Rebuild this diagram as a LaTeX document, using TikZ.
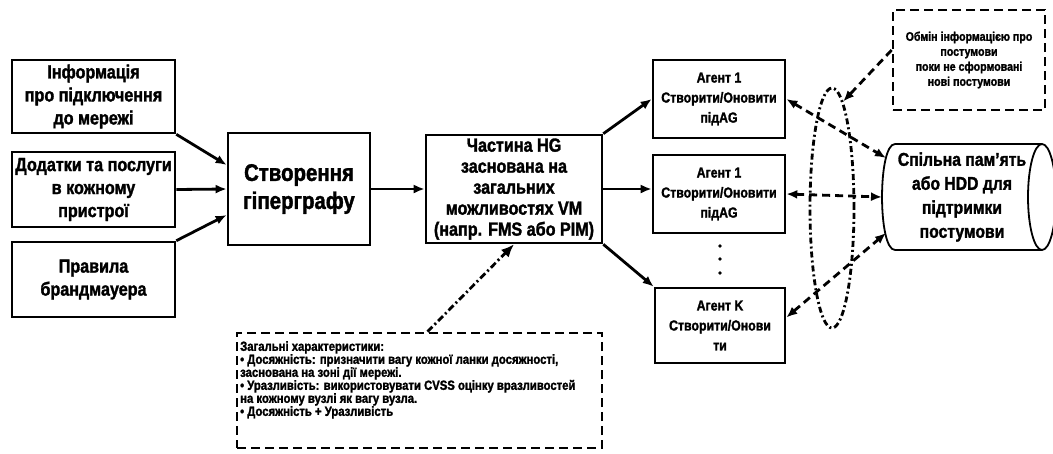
\documentclass[tikz,border=0pt]{standalone}
\usepackage{fontspec}
\setmainfont{Liberation Sans}[FakeStretch=0.85,BoldFeatures={FakeBold=1.6}]
\usetikzlibrary{arrows.meta,shapes.geometric,calc}
\newcommand{\fsz}[2]{\fontsize{#1}{#2}\selectfont\bfseries}
\begin{document}
\begin{tikzpicture}[x=1pt,y=-1pt,
  box/.style={draw,line width=2.6pt,align=center,inner sep=0pt},
  dbox/.style={draw,line width=2.6pt,dash pattern=on 9pt off 5pt,align=center,inner sep=0pt},
  arr/.style={line width=2.8pt,-{Latex[length=11pt,width=9pt]}},
  darr/.style={line width=2.8pt,dash pattern=on 8pt off 5pt,{Latex[length=11pt,width=9pt]}-{Latex[length=11pt,width=9pt]}},
  sarr/.style={line width=2.8pt,dash pattern=on 8pt off 5pt,-{Latex[length=11pt,width=9pt]}},
  ddarr/.style={line width=2.8pt,dash pattern=on 7pt off 3pt on 2pt off 3pt,-{Latex[length=13pt,width=11pt]}},
  loopst/.style={draw,ellipse,line width=2.8pt,dash pattern=on 6pt off 3pt on 2pt off 3pt,inner sep=0pt},
  dotst/.style={circle,fill,inner sep=1.3pt}
]
\clip (0,0) rectangle (1053,453);
\useasboundingbox (0,0) rectangle (1053,453);

% left inputs
\node[box,minimum width=163pt,minimum height=73pt,font=\fsz{19}{23}] (info) at (93.5,96.5) {Інформація\\про підключення\\до мережі};
\node[box,minimum width=163pt,minimum height=75pt,font=\fsz{19}{23}] (dod) at (93.5,189.5) {Додатки та послуги\\в кожному\\пристрої};
\node[box,minimum width=163pt,minimum height=75pt,font=\fsz{19}{23}] (prav) at (93.5,279.5) {Правила\\брандмауера};

% hypergraph creation
\node[box,minimum width=142pt,minimum height=112pt,font=\fsz{24}{28}] (hyp) at (299,189) {Створення\\гіперграфу};

% HG part
\node[box,minimum width=176pt,minimum height=108pt,font=\fsz{19}{21}] (hg) at (514,189) {Частина HG\\заснована на\\загальних\\можливостях VM\\(напр. FMS або PIM)};

% agents
\node[box,minimum width=132pt,minimum height=78pt,font=\fsz{14.5}{20}] (ag1) at (719,99) {Агент 1\\Створити/Оновити\\підAG};
\node[box,minimum width=132pt,minimum height=78pt,font=\fsz{14.5}{20}] (ag2) at (719,194) {Агент 1\\Створити/Оновити\\підAG};
\node[box,minimum width=130pt,minimum height=75pt,font=\fsz{14.5}{20}] (agk) at (720,325.5) {Агент K\\Створити/Онови\\ти};

\node[dotst] (d1) at (720,246) {};
\node[dotst] (d2) at (720,259) {};
\node[dotst] (d3) at (720,273) {};

% shared memory cylinder
\draw[line width=1.8pt] (895,144) -- (1042,144) (895,250) -- (1042,250);
\draw[line width=1.8pt] (895,144) .. controls (877.7,144) and (877.7,250) .. (895,250);
\draw[line width=1.8pt] (1042,197) ellipse [x radius=14pt, y radius=53pt];
\node[align=center,inner sep=0pt,font=\fsz{18.5}{24}] (mem) at (962,197) {Спільна пам'ять\\або HDD для\\підтримки\\постумови};
\coordinate (m1) at (886,158);
\coordinate (m2) at (882,197);
\coordinate (m3) at (886,233);

% exchange box
\node[dbox,minimum width=152pt,minimum height=100pt,font=\fsz{12.5}{15}] (exch) at (969,60) {Обмін інформацією про\\постумови\\поки не сформовані\\нові постумови};

% loop ellipse
\node[loopst,minimum width=44pt,minimum height=240pt] (loop) at (832,208) {};

% characteristics box
\node[dbox,minimum width=365pt,minimum height=115pt] (charbox) at (419.5,390.5) {};
\node[anchor=north west,align=left,inner sep=0pt,font=\fsz{13.3}{13}] (chartext) at (240,341) {Загальні характеристики:\\
• Досяжність: призначити вагу кожної ланки досяжності,\\
заснована на зоні дії мережі.\\
• Уразливість: використовувати CVSS оцінку вразливостей\\
на кожному вузлі як вагу вузла.\\
• Досяжність + Уразливість};

% solid arrows
\draw[arr] (info.south east) -- ([yshift=24pt]hyp.west);
\draw[arr] (dod.east) -- (hyp.west);
\draw[arr] (prav.north east) -- ([yshift=-26pt]hyp.west);
\draw[arr] (hyp.east) -- (hg.west);
\draw[arr] (hg.north east) -- (ag1.west);
\draw[arr] (hg.east) -- (hg.east -| ag2.west);
\draw[arr] (hg.south east) -- (agk.north west);

% dashed arrows to memory
\draw[darr] (ag1.east) -- (m1);
\draw[darr] (ag2.east) -- (m2);
\draw[darr] ([yshift=8pt]agk.east) -- (m3);
\draw[sarr] ([yshift=10pt]exch.west) -- (loop.84);

% dash-dot arrow
\draw[ddarr] ([xshift=8pt]charbox.north) -- (hg.south);
\end{tikzpicture}
\end{document}
